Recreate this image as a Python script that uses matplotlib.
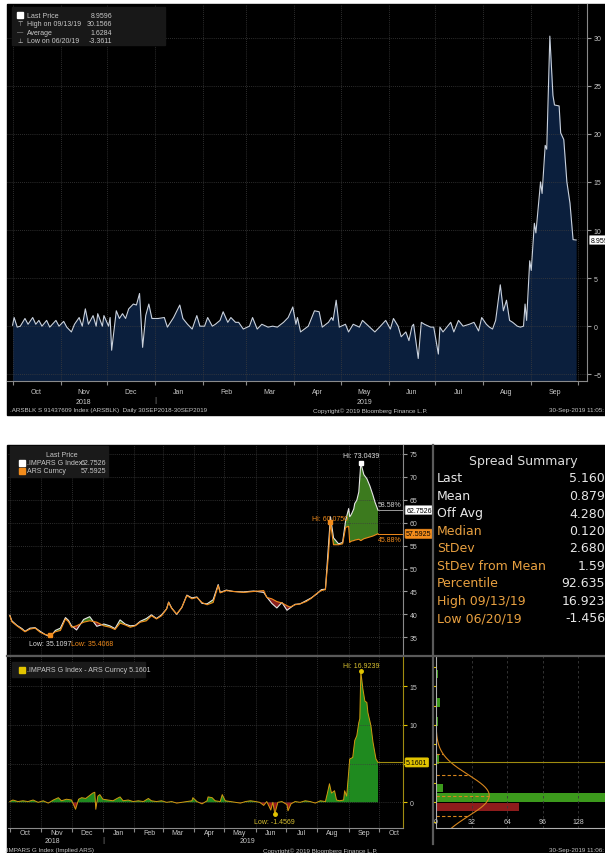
import numpy as np
import pandas as pd
import matplotlib
matplotlib.use('Agg')
import matplotlib.pyplot as plt
import matplotlib.dates as mdates
import matplotlib.transforms as mtransforms
from matplotlib.lines import Line2D
from matplotlib.patches import Rectangle

plt.rcParams['font.family'] = ['Liberation Sans', 'DejaVu Sans']

W, H = 605, 854

# ----------------------------------
# Data - top chart (.ARSBLK), days after 2018-09-28
# ----------------------------------
blk_days = [3, 4, 6, 8, 11, 13, 16, 18, 20, 22,
            25, 27, 31, 33, 36, 38, 41, 43, 46, 48,
            50, 52, 55, 57, 58, 61, 62, 65, 66, 67,
            70, 72, 74, 76, 78, 81, 83, 85, 87, 89,
            91, 93, 97, 101, 103, 107, 111, 113, 116, 119,
            122, 124, 127, 129, 132, 134, 137, 139, 142, 144,
            147, 149, 152, 156, 158, 161, 164, 168, 171, 174,
            178, 181, 184, 186, 187, 189, 194, 198, 201, 203,
            207, 209, 210, 212, 214, 218, 220, 223, 227, 229,
            233, 237, 240, 244, 247, 249, 252, 254, 257, 259,
            261, 262, 265, 267, 269, 273, 275, 278, 279, 281,
            284, 286, 288, 291, 294, 298, 301, 304, 306, 309,
            311, 313, 315, 318, 320, 322, 324, 326, 329, 331,
            333, 334, 335, 337, 338, 340, 341, 344, 345, 347,
            348, 350, 352, 353, 356, 357, 359, 361, 363, 365,
            367]
blk_vals = [0.1, 0.9, -0.1, 0.0, 0.8, 0.2, 0.9, 0.2, 0.6, 0.0,
            0.6, -0.1, 0.6, 0.0, 0.5, -0.1, -0.6, 0.2, 0.9, 0.0,
            1.8, 0.2, 1.1, 0.0, 1.3, 0.0, 1.1, 0.0, 0.9, -2.5,
            1.6, 0.8, 1.3, 0.8, 1.8, 2.3, 2.2, 3.4, -2.2, 1.1,
            2.3, 0.8, 0.8, 0.9, -0.1, 0.9, 2.2, 0.8, 0.2, -0.3,
            1.1, 0.0, 0.0, 0.9, 0.0, 0.2, 0.6, 1.5, 0.4, 0.9,
            0.4, 0.4, -0.3, 0.0, 0.9, -0.3, 0.2, -0.1, 0.0, -0.1,
            0.4, 0.9, 2.0, 0.2, 0.9, -0.6, 0.0, 1.6, 1.5, -0.1,
            0.4, 0.9, 0.6, 2.7, -0.1, 0.2, -0.6, 0.2, -0.1, 0.6,
            0.0, -0.6, -0.1, 0.6, -0.3, 0.8, 0.0, -1.1, -0.6, -1.5,
            0.0, 0.2, -3.36, 0.4, 0.2, -0.1, -0.1, -2.9, -0.1, -0.6,
            0.0, 0.4, -0.6, 0.6, 0.0, 0.2, 0.4, -0.5, 0.9, 0.2,
            -0.1, -0.3, 0.6, 4.3, 1.6, 2.7, 0.6, 0.4, 0.0, -0.1,
            0.0, 2.3, 0.6, 6.8, 5.8, 10.7, 9.7, 15.0, 13.8, 18.8,
            18.4, 30.16, 24.0, 23.0, 22.9, 20.1, 19.4, 15.0, 12.8, 9.0,
            8.96]
blk_months = ['Oct', 'Nov', 'Dec', 'Jan', 'Feb', 'Mar', 'Apr', 'May',
              'Jun', 'Jul', 'Aug', 'Sep']
blk_legend = [('Last Price', '8.9596'), ('High on 09/13/19', '30.1566'),
              ('Average', '1.6284'), ('Low on 06/20/19', '-3.3611')]

# ----------------------------------
# Data - bottom chart, days after 2018-09-30
# ----------------------------------
px_days = [1, 3, 8, 13, 16, 21, 26, 31, 36, 41,
           46, 51, 56, 59, 62, 67, 74, 80, 87, 94,
           100, 105, 110, 115, 120, 125, 130, 136, 141, 146,
           151, 156, 158, 161, 166, 171, 176, 181, 186, 191,
           196, 202, 207, 209, 215, 222, 232, 242, 252, 255,
           260, 265, 270, 275, 278, 283, 288, 294, 299, 304,
           309, 313, 316, 318, 321, 326, 330, 333, 336, 337,
           338, 339, 341, 342, 344, 346, 348, 351, 354, 357,
           360, 362, 365]
ars_vals = [39.7, 38.4, 37.5, 36.7, 36.2, 36.8, 37.0, 36.1, 35.6, 35.41,
            36.2, 36.5, 39.0, 38.4, 37.2, 37.5, 38.3, 38.6, 38.3, 37.5,
            37.2, 36.7, 38.1, 37.7, 37.2, 37.5, 38.3, 38.6, 39.7, 39.0,
            39.7, 41.2, 42.6, 41.3, 40.1, 41.5, 44.1, 43.4, 43.7, 42.6,
            42.1, 42.6, 46.3, 44.7, 45.2, 45.0, 44.8, 45.0, 45.2, 43.7,
            43.4, 42.8, 42.5, 41.9, 41.6, 42.1, 42.3, 42.8, 43.5, 44.5,
            45.2, 45.4, 53.0, 60.08, 55.2, 55.2, 55.4, 59.0, 59.2, 55.7,
            55.9, 56.0, 56.1, 56.2, 56.3, 56.4, 56.1, 56.5, 56.7, 56.9,
            57.1, 57.3, 57.59]
impars_vals = [39.8, 38.6, 37.6, 36.9, 36.3, 37.0, 37.1, 36.3, 35.6, 35.11,
               36.5, 37.0, 39.3, 38.7, 37.5, 36.6, 38.9, 39.5, 37.4, 37.9,
               37.5, 36.9, 38.8, 37.9, 37.5, 37.6, 38.5, 39.1, 39.9, 39.1,
               39.9, 41.2, 42.7, 41.4, 40.0, 41.5, 44.2, 43.6, 43.8, 42.4,
               42.3, 43.2, 46.5, 44.8, 45.3, 45.0, 44.9, 45.1, 44.8, 43.8,
               42.4, 41.4, 42.6, 40.9, 41.4, 42.2, 42.3, 43.0, 43.6, 44.4,
               45.4, 45.5, 55.0, 61.3, 56.7, 55.4, 55.7, 60.5, 63.1, 61.3,
               61.6, 62.0, 63.0, 64.2, 64.9, 66.7, 73.04, 70.5, 69.6, 68.0,
               66.0, 64.5, 62.75]
spread_days = [1, 4, 9, 14, 19, 24, 29, 34, 39, 44,
               49, 52, 57, 62, 66, 69, 72, 76, 80, 83,
               85, 86, 88, 90, 93, 98, 103, 107, 110, 113,
               118, 123, 128, 133, 138, 141, 146, 151, 156, 161,
               166, 171, 176, 181, 182, 186, 191, 196, 197, 201,
               204, 209, 211, 214, 219, 224, 229, 234, 239, 244,
               248, 252, 255, 259, 261, 263, 266, 270, 275, 276,
               279, 283, 288, 293, 298, 303, 308, 313, 315, 317,
               319, 322, 324, 327, 331, 332, 334, 336, 337, 340,
               341, 342, 344, 346, 347, 348, 350, 352, 354, 355,
               358, 360, 363, 365]
spread_vals = [0.1, 0.3, 0.1, 0.2, 0.1, 0.3, 0.0, 0.2, -0.1, 0.3,
               0.6, 0.2, 0.4, 0.3, -0.9, 0.4, 0.6, 0.5, 0.9, 1.2,
               1.3, -0.9, 0.8, 1.0, 0.4, 0.3, 0.2, 0.5, 0.7, 0.2,
               0.3, 0.1, 0.2, 0.1, 0.5, 0.2, 0.1, 0.2, 0.0, 0.1,
               -0.1, 0.0, 0.1, 0.2, 0.6, 0.1, -0.2, 0.2, 0.7, 0.6,
               0.2, 0.1, 1.0, 0.2, 0.1, 0.0, -0.1, 0.1, 0.2, 0.1,
               0.0, -0.4, 0.1, -1.0, 0.0, -1.46, 0.0, 0.1, -0.3, -1.1,
               -0.2, 0.1, 0.0, 0.2, 0.1, -0.1, 0.2, 0.1, 1.2, 2.4,
               1.2, 1.5, 0.3, 0.2, 0.3, 1.5, 0.8, 3.9, 5.6, 5.8,
               6.9, 8.0, 8.6, 10.3, 10.8, 16.92, 14.7, 13.1, 12.9, 11.6,
               9.9, 7.8, 5.6, 5.16]
hist_edges = [-1.23, 0.0, 1.23, 2.46, 3.69, 4.92, 6.15, 7.38, 8.61,
              9.84, 11.07, 12.3, 13.53, 14.76, 15.99, 17.22]
hist_counts = [75, 200, 6, 1, 1, 3, 1, 1, 1, 2, 1, 4, 1, 0, 2]
hist_ticks = [0, 32, 64, 96, 128]
spread_mean, spread_std = 0.879, 2.680
curve_peak = 48
bot_months = ['Oct', 'Nov', 'Dec', 'Jan', 'Feb', 'Mar', 'Apr', 'May',
              'Jun', 'Jul', 'Aug', 'Sep', 'Oct']
summary_labels = ['Last', 'Mean', 'Off Avg', 'Median', 'StDev',
                  'StDev from Mean', 'Percentile', 'High 09/13/19', 'Low 06/20/19']
summary_values = ['5.160', '0.879', '4.280', '0.120', '2.680',
                  '1.59', '92.635', '16.923', '-1.456']

GRID = '#3d3d3d'
TXT = '#c8c8c8'
ORANGE = '#f28c1c'
YELLOW = '#e2c400'
SUM_ORANGE = '#e8a040'

fig = plt.figure(figsize=(W / 100, H / 100), dpi=100)
fig.patch.set_facecolor('white')


def rect(x0, y0, x1, y1):
    return [x0 / W, 1 - y1 / H, (x1 - x0) / W, (y1 - y0) / H]


def ftext(x, y, s, **kw):
    kw.setdefault('fontsize', 5)
    kw.setdefault('color', TXT)
    kw.setdefault('va', 'center')
    return fig.text(x / W, 1 - y / H, s, **kw)


def fbox(x0, y0, x1, y1, **kw):
    fig.add_artist(Rectangle((x0 / W, 1 - y1 / H), (x1 - x0) / W, (y1 - y0) / H,
                             transform=fig.transFigure, **kw))


def fline(xs, ys, **kw):
    fig.add_artist(Line2D([x / W for x in xs], [1 - y / H for y in ys],
                          transform=fig.transFigure, **kw))


def style(ax):
    ax.set_facecolor('black')
    for s in ['top', 'left']:
        ax.spines[s].set_visible(False)
    ax.spines['right'].set_color('#8a8a8a')
    ax.spines['bottom'].set_color('#8a8a8a')
    ax.yaxis.tick_right()
    ax.tick_params(axis='y', length=3, color='#9a9a9a', labelsize=5,
                   labelcolor=TXT, pad=2)
    ax.grid(True, which='major', color=GRID, ls=(0, (1, 1.5)), lw=0.6)


def month_ticks(ax, first, labels, ypix):
    starts = pd.date_range(first, periods=len(labels) + 1, freq='MS')
    mids = starts[:-1] + pd.Timedelta(days=15)
    ax.set_xticks(mdates.date2num(starts))
    ax.set_xticklabels([])
    ax.tick_params(axis='x', which='major', length=3, color='#8a8a8a')
    tr = mtransforms.blended_transform_factory(ax.transData, fig.transFigure)
    if ypix is not None:
        for m, lab in zip(mdates.date2num(mids), labels):
            ax.text(m, 1 - ypix / H, lab, transform=tr, ha='center', va='center',
                    fontsize=5, color=TXT, clip_on=False)
    return tr


# black panels
fbox(7, 5, 605, 416, color='black', zorder=-5)
fbox(7, 446, 605, 854, color='black', zorder=-5)

# ----------------------------------
# Top chart
# ----------------------------------
d0 = np.datetime64('2018-09-28')
blk_dates = d0 + np.array(blk_days, dtype='timedelta64[D]')
ax1 = fig.add_axes(rect(7, 5, 587, 382))
style(ax1)
ax1.fill_between(blk_dates, blk_vals, -10, color='#0b1f3d', lw=0)
ax1.plot(blk_dates, blk_vals, color='#c9d1dd', lw=0.8)
x0 = mdates.date2num(d0)
ax1.set_ylim(-5.7, 33.5)
ax1.set_yticks(range(-5, 31, 5))
tr1 = month_ticks(ax1, '2018-10-01', blk_months, 393)
ax1.set_xlim(x0 - 0.6, x0 + 374)
for d, lab in [('2018-11-16', '2018'), ('2019-05-16', '2019')]:
    ax1.text(mdates.date2num(np.datetime64(d)), 1 - 402 / H, lab, transform=tr1,
             ha='center', va='center', fontsize=5, color=TXT, clip_on=False)
ax1.text(mdates.date2num(np.datetime64('2019-01-01')), 1 - 401 / H, '|', transform=tr1,
         ha='center', va='center', fontsize=6, color='#8a8a8a', clip_on=False)
btr = mtransforms.blended_transform_factory(ax1.transAxes, ax1.transData)
ax1.text(1.006, blk_vals[-1], '8.9596', transform=btr, fontsize=5, color='black',
         va='center', clip_on=False,
         bbox=dict(boxstyle='round,pad=0.15', fc='white', ec='#999999', lw=0.5))

# legend box
fbox(12, 8, 165, 46, color='#181818', zorder=6)
fbox(17, 12.5, 23, 18.5, color='white', zorder=7)
for i, (lab, val) in enumerate(blk_legend):
    y = 16 + i * 8.6
    ftext(27, y, lab, zorder=8)
    ftext(112, y, val, ha='right', zorder=8)
for i, g in enumerate(['\u22a4', '\u2014', '\u22a5']):
    ftext(20, 24.6 + i * 8.6, g, ha='center', fontsize=4.5, zorder=8)

ftext(10, 411, '.ARSBLK S 91437609 Index (ARSBLK)  Daily 30SEP2018-30SEP2019', fontsize=4.5)
ftext(313, 411, 'Copyright\u00a9 2019 Bloomberg Finance L.P.', fontsize=4.5)
ftext(604, 411, '30-Sep-2019 11:05:', fontsize=4.5, ha='right')

# ----------------------------------
# Bottom chart - two series
# ----------------------------------
b0 = np.datetime64('2018-09-30')
bx0 = mdates.date2num(b0)
xend = bx0 + 389.7
px_dates = b0 + np.array(px_days, dtype='timedelta64[D]')
ars = np.array(ars_vals)
imp = np.array(impars_vals)

ax2 = fig.add_axes(rect(8, 446, 403, 656))
style(ax2)
ax2.fill_between(px_dates, ars, imp, where=imp >= ars, interpolate=True,
                 color='#3c7a1e', lw=0)
ax2.fill_between(px_dates, ars, imp, where=imp < ars, interpolate=True,
                 color='#8a2020', lw=0)
ax2.plot(px_dates, imp, color='#e6e6e6', lw=0.8)
ax2.plot(px_dates, ars, color=ORANGE, lw=0.8)
ax2.set_ylim(31.14, 76.96)
ax2.set_yticks(range(35, 76, 5))
month_ticks(ax2, '2018-10-01', bot_months, None)
ax2.tick_params(axis='x', which='major', length=0)
ax2.set_xlim(bx0 - 0.8, xend)

ihi, ahi = np.argmax(imp), np.argmax(ars)
ilo, alo = np.argmin(imp), np.argmin(ars)
ax2.plot(px_dates[ihi], imp[ihi], 's', ms=2.5, color='white')
ax2.annotate('Hi: 73.0439', (px_dates[ihi], imp[ihi]), xytext=(0, 4),
             textcoords='offset points', ha='center', fontsize=5, color='#dddddd')
ax2.plot(px_dates[ahi], ars[ahi], 's', ms=2.5, color=ORANGE)
ax2.annotate('Hi: 60.0750', (px_dates[ahi], ars[ahi]), xytext=(0, 2),
             textcoords='offset points', ha='center', fontsize=5, color=ORANGE)
ax2.plot(px_dates[alo], ars[alo], 's', ms=2.5, color=ORANGE)
ax2.annotate('Low: 35.1097', (px_dates[ilo], imp[ilo]), xytext=(0, -2.5),
             textcoords='offset points', ha='center', va='top', fontsize=5, color='#dddddd')
ax2.annotate('Low: 35.4068', (px_dates[alo], ars[alo]), xytext=(15, -3),
             textcoords='offset points', ha='left', va='top', fontsize=5, color=ORANGE)

ax2.plot([px_dates[-1], mdates.num2date(xend)], [imp[-1], imp[-1]], color='#9a9a9a', lw=0.7)
ax2.plot([px_dates[-1], mdates.num2date(xend)], [ars[-1], ars[-1]], color=ORANGE, lw=0.7)
ax2.annotate('58.58%', (1.0, imp[-1]), xycoords=('axes fraction', 'data'), xytext=(-1, 1.5),
             textcoords='offset points', ha='right', va='bottom', fontsize=5, color='#cccccc')
ax2.annotate('45.88%', (1.0, ars[-1]), xycoords=('axes fraction', 'data'), xytext=(-1, -1.5),
             textcoords='offset points', ha='right', va='top', fontsize=5, color=ORANGE)
btr2 = mtransforms.blended_transform_factory(ax2.transAxes, ax2.transData)
ax2.text(1.008, imp[-1], '62.7526', transform=btr2, fontsize=5, color='black', va='center',
         clip_on=False, zorder=10,
         bbox=dict(boxstyle='round,pad=0.15', fc='white', ec='#999999', lw=0.5))
ax2.text(1.008, ars[-1], '57.5925', transform=btr2, fontsize=5, color='black', va='center',
         clip_on=False, zorder=10,
         bbox=dict(boxstyle='round,pad=0.15', fc=ORANGE, ec=ORANGE, lw=0.5))

fbox(10, 447, 108, 478, color='#1a1a1a', zorder=6)
ftext(62, 455.5, 'Last Price', ha='center', zorder=8)
fbox(19, 460.5, 25, 466.5, color='white', zorder=7)
fbox(19, 469, 25, 475, color=ORANGE, zorder=7)
ftext(27, 463.5, '.IMPARS G Index', zorder=8)
ftext(106, 463.5, '62.7526', ha='right', zorder=8)
ftext(27, 472, 'ARS Curncy', zorder=8)
ftext(106, 472, '57.5925', ha='right', zorder=8)

# ----------------------------------
# Bottom chart - spread
# ----------------------------------
sp_dates = b0 + np.array(spread_days, dtype='timedelta64[D]')
sp = np.array(spread_vals)
ax3 = fig.add_axes(rect(8, 657, 403, 829))
style(ax3)
ax3.spines['right'].set_color('#a08c10')
ax3.fill_between(sp_dates, sp, 0, where=sp >= 0, interpolate=True, color='#1f8a1f', lw=0)
ax3.fill_between(sp_dates, sp, 0, where=sp < 0, interpolate=True, color='#9a1c1c', lw=0)
ax3.plot(sp_dates, sp, color='#d09a10', lw=0.7)
ax3.set_ylim(-3.32, 18.92)
ax3.set_yticks([0, 5, 10, 15])
ax3.set_yticklabels(['0', '', '10', '15'])
ax3.tick_params(axis='y', color=YELLOW)
tr3 = month_ticks(ax3, '2018-10-01', bot_months, 834)
ax3.set_xlim(bx0 - 0.8, xend)
for d, lab in [('2018-11-12', '2018'), ('2019-05-24', '2019')]:
    ax3.text(mdates.date2num(np.datetime64(d)), 1 - 842 / H, lab, transform=tr3,
             ha='center', va='center', fontsize=5, color=TXT, clip_on=False)
ax3.text(mdates.date2num(np.datetime64('2019-01-01')), 1 - 841 / H, '|', transform=tr3,
         ha='center', va='center', fontsize=6, color='#8a8a8a', clip_on=False)

shi, slo = np.argmax(sp), np.argmin(sp)
ax3.plot(sp_dates[shi], sp[shi], 'o', ms=2.5, color=YELLOW)
ax3.annotate('Hi: 16.9239', (sp_dates[shi], sp[shi]), xytext=(0, 3),
             textcoords='offset points', ha='center', fontsize=5, color='#d8c030')
ax3.plot(sp_dates[slo], sp[slo], 'o', ms=2.5, color=YELLOW)
ax3.annotate('Low: -1.4569', (sp_dates[slo], sp[slo]), xytext=(0, -3),
             textcoords='offset points', ha='center', va='top', fontsize=5, color='#d8c030')
ax3.plot([sp_dates[-1], mdates.num2date(xend)], [sp[-1], sp[-1]], color='#a08c10', lw=0.8)
btr3 = mtransforms.blended_transform_factory(ax3.transAxes, ax3.transData)
ax3.text(1.008, sp[-1], '5.1601', transform=btr3, fontsize=5, color='black', va='center',
         clip_on=False, zorder=10,
         bbox=dict(boxstyle='round,pad=0.15', fc=YELLOW, ec=YELLOW, lw=0.5))

fbox(12, 663, 145, 678, color='#1a1a1a', zorder=6)
fbox(19, 667.5, 25, 673.5, color=YELLOW, zorder=7)
ftext(27, 670.5, '.IMPARS G Index - ARS Curncy 5.1601', zorder=8)

ftext(5, 851, '.IMPARS G Index (Implied ARS)', fontsize=4.5)
ftext(263, 851, 'Copyright\u00a9 2019 Bloomberg Finance L.P.', fontsize=4.5)
ftext(604, 851, '30-Sep-2019 11:06:', fontsize=4.5, ha='right')

# ----------------------------------
# Histogram of spread
# ----------------------------------
ax4 = fig.add_axes(rect(436, 657, 605, 829))
ax4.set_facecolor('black')
edges = np.array(hist_edges)
centers = (edges[:-1] + edges[1:]) / 2
bcol = ['#3c9a1c' if c > 0 else '#8e1c1c' for c in centers]
ax4.barh(centers, hist_counts, height=np.diff(edges) * 0.92, color=bcol, lw=0)
ys = np.linspace(-3.3, 9.5, 200)
ax4.plot(curve_peak * np.exp(-0.5 * ((ys - spread_mean) / spread_std) ** 2), ys,
         color='#d8861c', lw=0.8)
for k in [-1, 0, 1, 2]:
    yv = spread_mean + k * spread_std
    xv = curve_peak * np.exp(-0.5 * k * k)
    ax4.plot([0, xv], [yv, yv], color='#d8861c', lw=0.8, ls=(0, (3, 2)))
ax4.axhline(sp[-1], color='#a08c10', lw=0.8)
ax4.set_ylim(-3.32, 18.92)
ax4.set_xlim(0, 152.3)
for s in ['top', 'right']:
    ax4.spines[s].set_visible(False)
ax4.spines['left'].set_color('#b0b0b0')
ax4.spines['bottom'].set_color('#b0b0b0')
ax4.set_yticks(np.arange(-2.5, 18.9, 2.5))
ax4.set_yticklabels([])
ax4.tick_params(axis='y', length=2.5, color=YELLOW)
ax4.set_xticks(hist_ticks)
ax4.tick_params(axis='x', length=0, labelsize=5, labelcolor=TXT, pad=-7.5)
ax4.grid(True, axis='x', color='#3a3a3a', ls=(0, (3, 3)), lw=0.6)

# ----------------------------------
# Panel separators and spread summary
# ----------------------------------
fline([7, 605], [656.5, 656.5], color='#5a5a5a', lw=1.6, zorder=9)
fline([433, 433], [446, 845], color='#5a5a5a', lw=1.6, zorder=9)

ftext(523, 462, 'Spread Summary', ha='center', fontsize=9, color='#dcdcdc',
      family='DejaVu Sans')
for i, (lab, val) in enumerate(zip(summary_labels, summary_values)):
    y = 479 + i * 17.5
    ftext(437, y, lab, fontsize=9, color='#e6e6e6' if i < 3 else SUM_ORANGE,
          family='DejaVu Sans')
    ftext(605, y, val, fontsize=9, color='#e6e6e6', ha='right', family='DejaVu Sans')

fig.savefig('out.png', dpi=100, facecolor='white')
